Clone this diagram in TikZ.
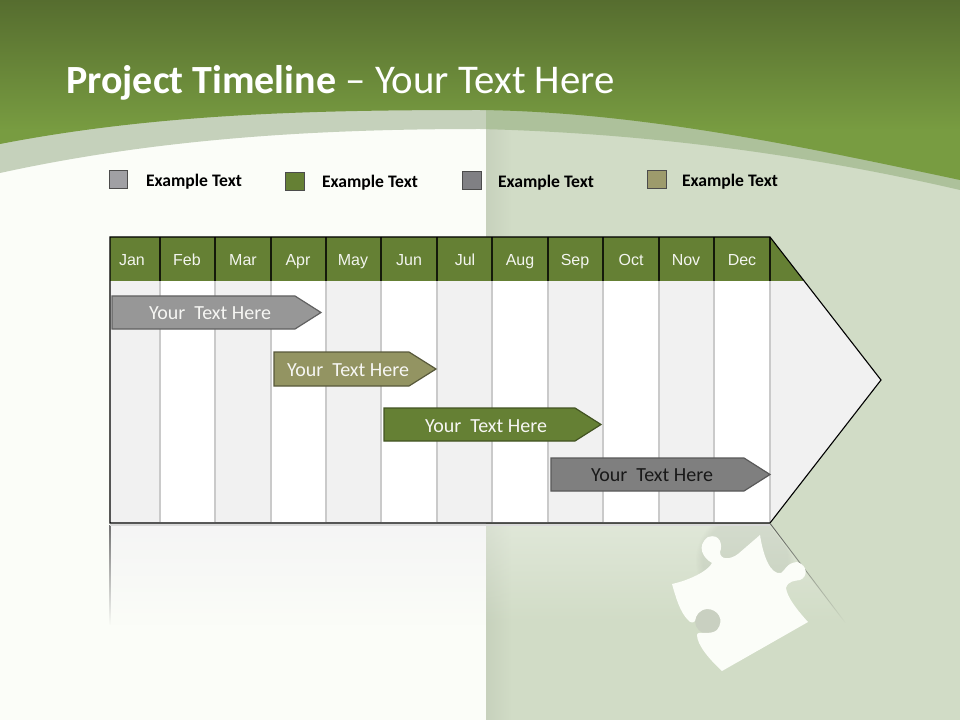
\documentclass[tikz,border=0pt]{standalone}
\usepackage{fontspec}
\setmainfont{Carlito}
\newfontfamily\arialf{Liberation Sans}
\usetikzlibrary{fadings}
\definecolor{hdtop}{HTML}{566D2F}
\definecolor{hdbot}{HTML}{789C41}
\definecolor{paper}{HTML}{FBFDF8}
\definecolor{panel}{HTML}{D1DCC6}
\definecolor{bandl}{HTML}{C5D1BB}
\definecolor{bandr}{HTML}{ADC19B}
\definecolor{mgreen}{HTML}{658034}
\definecolor{colgrey}{HTML}{F1F1F1}
\definecolor{divgrey}{HTML}{CACACA}
\definecolor{cgrey}{HTML}{979797}
\definecolor{colive}{HTML}{939462}
\definecolor{cdark}{HTML}{7F7F7F}
\definecolor{lgrey}{HTML}{A0A0A4}
\definecolor{ldark}{HTML}{808084}
\definecolor{lolive}{HTML}{9D9B6C}
\definecolor{socket}{HTML}{C9D0C1}
\tikzset{
  px/.style={line width=#1*0.75pt},
  month/.style={text=white!92!mgreen,inner sep=0pt,anchor=base,font=\arialf\fontsize{12}{14}\selectfont},
  legbox/.style={draw=black!70,px=1,minimum width=14.2pt,minimum height=14.2pt,inner sep=0pt},
  legtext/.style={inner sep=0pt,anchor=base,font=\bfseries\fontsize{13.2}{15}\selectfont,text=black},
  bartext/.style={inner sep=0pt,anchor=base,font=\fontsize{15}{17}\selectfont,text=white!92!colive},
  barshape/.style={px=1.2}
}
\begin{document}
\begin{tikzpicture}[x=0.75pt,y=-0.75pt]
\useasboundingbox (0,0) rectangle (960,720);
% background
\fill[paper] (0,0) rectangle (486,720);
\fill[panel] (486,0) rectangle (960,720);
\shade[left color=black!5!panel,right color=panel] (486,120) rectangle (512,720);
% band
\begin{scope}
\clip (0,173) .. controls (160,138) and (320,129) .. (480,129) .. controls (640,133) and (800,153) .. (960,190) -- (960,0) -- (0,0) -- cycle;
\fill[bandl] (0,90) rectangle (486,200);
\fill[bandr] (486,90) rectangle (960,200);
\end{scope}
% header
\begin{scope}
\clip (0,144) .. controls (160,113) and (320,110) .. (480,110) .. controls (640,112) and (800,146) .. (960,180) -- (960,0) -- (0,0) -- cycle;
\shade[top color=hdtop,bottom color=hdbot] (0,0) rectangle (960,130);
\fill[hdbot] (0,130) rectangle (960,185);
\end{scope}
% reflection
\fill[black!4,path fading=south] (110,525) rectangle (486,625);
\fill[white,opacity=.32,path fading=south] (486,525) -- (770,525) -- (846,625) -- (486,625) -- cycle;
\fill[black!55,path fading=south] (109.4,525) rectangle (110.6,625);
\fill[black!65,path fading=south] (770,524) -- (771,524) -- (846,623) -- (845,623) -- cycle;
\fill[black!15] (110,524) rectangle (770,525.5);
% puzzle shadow and socket
\begin{scope}
\clip (660,526) -- (770,526) -- (830,605) -- (760,640) -- (660,620) -- cycle;
\fill[black,opacity=.05,path fading=circle with fuzzy edge 15 percent] (745,560) circle (50);
\end{scope}
\fill[socket] (708,621) circle (13);
% puzzle
\fill[paper] (672,584) .. controls (690,580) and (708,571) .. (712,563)
  .. controls (703,558) and (696,546) .. (708,537) .. controls (720,533) and (723,545) .. (720,552)
  .. controls (720,560) and (730,560) .. (738,554) -- (760,535)
  .. controls (763,555) and (770,575) .. (781,573)
  .. controls (785,571) and (786,563) .. (797,562) .. controls (808,565) and (808,577) .. (800,580)
  .. controls (794,581) and (788,581) .. (786,588)
  .. controls (787,597) and (797,610) .. (808,622) -- (722,671)
  .. controls (710,660) and (697,645) .. (697,635)
  .. controls (697,630) and (710,636) .. (717,630)
  .. controls (725,620) and (718,609) .. (707,609) .. controls (699,610) and (696,615) .. (695,621)
  .. controls (694,623) and (690,623) .. (688,620) .. controls (680,612) and (676,598) .. (672,584) -- cycle;
% chart body
\fill[colgrey] (110,237) -- (770,237) -- (881,380) -- (770,523) -- (110,523) -- cycle;
\fill[white] (160,281) rectangle (215,523);
\fill[white] (271,281) rectangle (326,523);
\fill[white] (381,281) rectangle (437,523);
\fill[white] (492,281) rectangle (548,523);
\fill[white] (603,281) rectangle (659,523);
\fill[white] (714,281) rectangle (770,523);
\foreach \x in {160,215,271,326,381,437,492,548,603,659,714,770}
  \draw[divgrey,px=1.2] (\x,281) -- (\x,522);
% header strip
\fill[mgreen] (110,237) -- (770,237) -- (804,281) -- (110,281) -- cycle;
\foreach \x in {160,215,271,326,381,437,492,548,603,659,714,770}
  \draw[black!80!mgreen,px=1.1] (\x,237) -- (\x,281);
\draw[black,px=1.1] (110,237) -- (770,237) -- (881,380) -- (770,523) -- (110,523) -- cycle;
\foreach \n/\x in {Jan/132,Feb/187,Mar/243,Apr/298,May/353,Jun/409,Jul/465,Aug/520,Sep/575,Oct/631,Nov/686,Dec/742}
  \node[month] (m\n) at (\x,266) {\n};
% bars
\draw[barshape,fill=cgrey,draw=black!62] (112,296) -- (295,296) -- (321,312.5) -- (295,329) -- (112,329) -- cycle;
\node[bartext] (b1) at (210,320) {Your\ \ Text Here};
\draw[barshape,fill=colive,draw=colive!60!black] (274,352) -- (409,352) -- (436,369) -- (409,386) -- (274,386) -- cycle;
\node[bartext] (b2) at (348,376) {Your\ \ Text Here};
\draw[barshape,fill=mgreen,draw=mgreen!65!black] (384,408) -- (575,408) -- (601,424.5) -- (575,441) -- (384,441) -- cycle;
\node[bartext] (b3) at (486,432) {Your\ \ Text Here};
\draw[barshape,fill=cdark,draw=black!65] (551,458) -- (744,458) -- (770,474.5) -- (744,491) -- (551,491) -- cycle;
\node[bartext,text=black!90] (b4) at (652,481.5) {Your\ \ Text Here};
% legend
\node[legbox,fill=lgrey] (k1) at (118.5,179.5) {};
\node[legtext] (t1) at (194,187) {Example Text};
\node[legbox,fill=mgreen] (k2) at (295,181.5) {};
\node[legtext] (t2) at (370,188) {Example Text};
\node[legbox,fill=ldark] (k3) at (472,180.5) {};
\node[legtext] (t3) at (546,188) {Example Text};
\node[legbox,fill=lolive] (k4) at (657,179.5) {};
\node[legtext] (t4) at (730,187) {Example Text};
% title
\node[anchor=base west,inner sep=0pt,text=white] (title) at (66,93.5) {\fontsize{30}{36}\selectfont\textbf{Project Timeline}\fontsize{30.6}{36}\selectfont{} – Your Text Here};
\end{tikzpicture}
\end{document}
